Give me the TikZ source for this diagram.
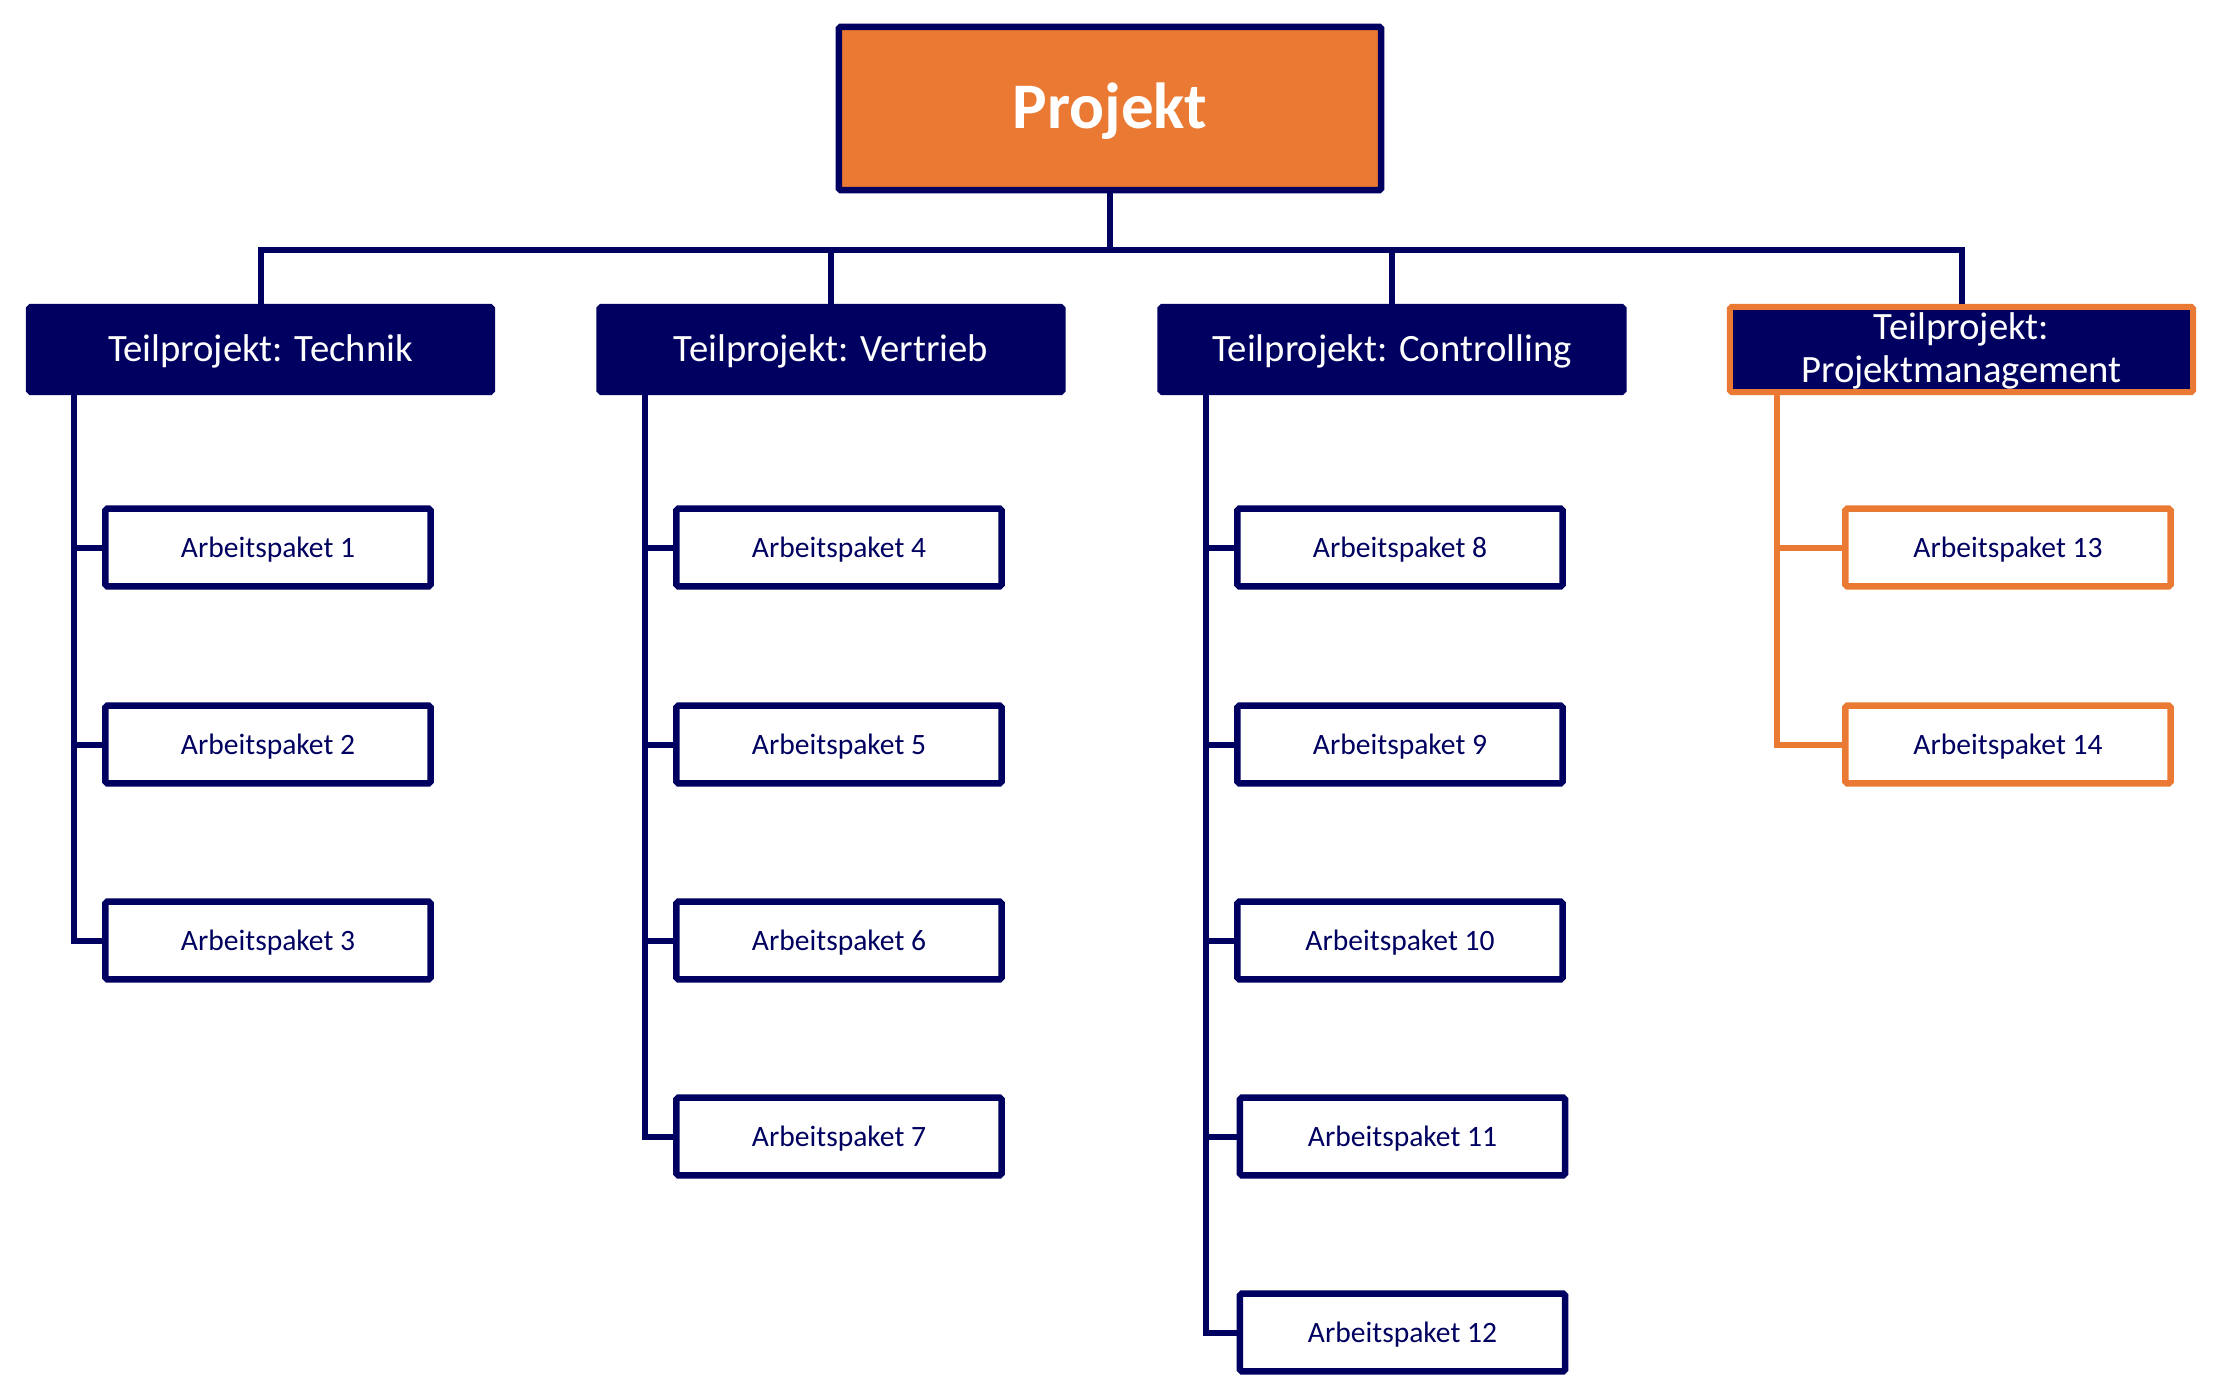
\documentclass[tikz,border=0pt]{standalone}
\usepackage{fontspec}
\setmainfont{Carlito}
\definecolor{navy}{HTML}{000060}
\definecolor{orng}{HTML}{EA7A33}
\begin{document}
\begin{tikzpicture}[x=0.01cm,y=-0.01cm,
  conn/.style={draw=navy,line width=0.06cm},
  oconn/.style={draw=orng,line width=0.06cm},
  topbox/.style={draw=navy,fill=orng,line width=0.065cm,minimum width=5.42cm,minimum height=1.63cm,inner sep=0pt,
    text=white,font=\fontsize{18.5}{20}\selectfont\bfseries,text height=11.65pt,text depth=0pt,rounded corners=0.5pt},
  subbox/.style={draw=navy,fill=navy,line width=0.06cm,minimum width=4.63cm,minimum height=0.85cm,inner sep=0pt,
    text=white,font=\fontsize{11}{12.2}\selectfont,rounded corners=0.5pt},
  onesub/.style={subbox,text height=7.04pt,text depth=0pt},
  apbox/.style={draw=navy,fill=white,line width=0.065cm,minimum width=3.25cm,minimum height=0.775cm,inner sep=0pt,
    text=navy,font=\fontsize{8.4}{10}\selectfont,text height=5.54pt,text depth=0pt,rounded corners=0.5pt},
  apobox/.style={apbox,draw=orng}]
\useasboundingbox (0,0) rectangle (2238,1390);

% top
\node[topbox] (P) at (1110,108.5) {Projekt};

% level 2
\node[onesub] (t1) at (260.5,349.5) {Teilprojekt: Technik};
\node[onesub] (t2) at (831,349.5) {Teilprojekt: Vertrieb};
\node[onesub] (t3) at (1392,349.5) {Teilprojekt: Controlling};
\node[subbox,draw=orng,align=center] (t4) at (1961.5,349.5) {\rule{0pt}{0.75em}Teilprojekt:\\Projektmanagement};

% work packages
\node[apbox] (a1) at (268,547.5) {Arbeitspaket 1};
\node[apbox] (a2) at (268,744.5) {Arbeitspaket 2};
\node[apbox] (a3) at (268,940.5) {Arbeitspaket 3};

\node[apbox] (a4) at (839,547.5) {Arbeitspaket 4};
\node[apbox] (a5) at (839,744.5) {Arbeitspaket 5};
\node[apbox] (a6) at (839,940.5) {Arbeitspaket 6};
\node[apbox] (a7) at (839,1136.5) {Arbeitspaket 7};

\node[apbox] (a8) at (1400,547.5) {Arbeitspaket 8};
\node[apbox] (a9) at (1400,744.5) {Arbeitspaket 9};
\node[apbox] (a10) at (1400,940.5) {Arbeitspaket 10};
\node[apbox] (a11) at (1402.5,1136.5) {Arbeitspaket 11};
\node[apbox] (a12) at (1402.5,1332.5) {Arbeitspaket 12};

\node[apobox] (a13) at (2008,547.5) {Arbeitspaket 13};
\node[apobox] (a14) at (2008,744.5) {Arbeitspaket 14};

% connectors top
\coordinate (bar) at (1110,250);
\draw[conn] (P.south) -- (bar);
\draw[conn] (t1.north) |- (bar) -| (t4.north);
\draw[conn] (t2.north) -- (t2.north |- bar);
\draw[conn] (t3.north) -- (t3.north |- bar);

% column lines
\coordinate (v1) at (74,395);
\coordinate (v2) at (645,395);
\coordinate (v3) at (1206,395);
\coordinate (v4) at (1777,395);

\draw[conn] (v1) |- (a3.west);
\draw[conn] (a1.west) -- (a1.west -| v1);
\draw[conn] (a2.west) -- (a2.west -| v1);

\draw[conn] (v2) |- (a7.west);
\draw[conn] (a4.west) -- (a4.west -| v2);
\draw[conn] (a5.west) -- (a5.west -| v2);
\draw[conn] (a6.west) -- (a6.west -| v2);

\draw[conn] (v3) |- (a12.west);
\draw[conn] (a8.west) -- (a8.west -| v3);
\draw[conn] (a9.west) -- (a9.west -| v3);
\draw[conn] (a10.west) -- (a10.west -| v3);
\draw[conn] (a11.west) -- (a11.west -| v3);

\draw[oconn] (v4) |- (a14.west);
\draw[oconn] (a13.west) -- (a13.west -| v4);
\end{tikzpicture}
\end{document}
